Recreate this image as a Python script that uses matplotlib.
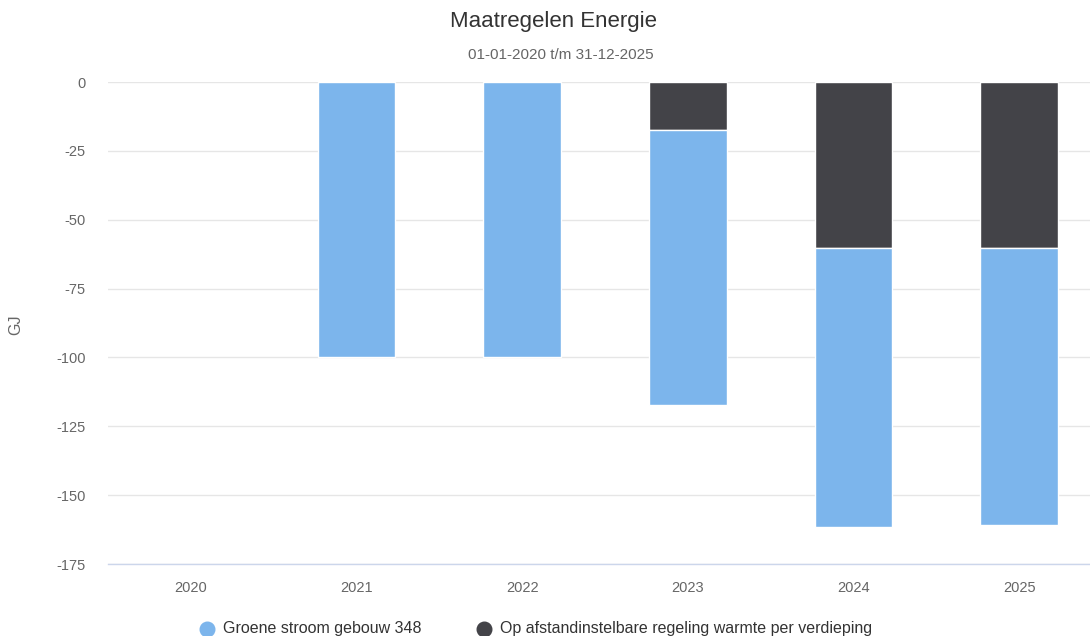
import numpy as np
from matplotlib import pyplot as plt
from matplotlib.lines import Line2D

# data
years = ["2020", "2021", "2022", "2023", "2024", "2025"]
groene_stroom = [np.nan, -100.0, -100.0, -100.1, -101.2, -100.4]
regeling_warmte = [np.nan, np.nan, np.nan, -17.3, -60.3, -60.3]
y_ticks = [0, -25, -50, -75, -100, -125, -150, -175]

blue = "#7cb5ec"
dark = "#434348"
plt.rcParams["font.family"] = ["Liberation Sans", "DejaVu Sans"]

fig = plt.figure(figsize=(10.9, 6.36), dpi=100)
W, H = 1090, 636
# plot area runs past the right edge, as in the reference
ax = fig.add_axes([108 / W, 1 - 564 / H, (1102 - 108) / W, (564 - 82) / H])

x = np.arange(len(years))
dark_vals = np.array(regeling_warmte)
stack_base = np.nan_to_num(dark_vals)

ax.bar(x, dark_vals, width=0.47, color=dark, edgecolor="white", linewidth=1, zorder=3)
ax.bar(x, groene_stroom, width=0.47, bottom=stack_base, color=blue,
       edgecolor="white", linewidth=1, zorder=3)

ax.set_xlim(-0.5, len(years) - 0.5)
ax.set_ylim(-175, 0)
ax.set_yticks(y_ticks)
ax.set_yticklabels([str(t) for t in y_ticks])
ax.set_xticks(x)
ax.set_xticklabels(years)
ax.tick_params(axis="both", length=0, labelsize=10.5, labelcolor="#666666")
ax.tick_params(axis="y", pad=16)
ax.tick_params(axis="x", pad=12)
ax.grid(axis="y", color="#e6e6e6", linewidth=1, zorder=0)
ax.set_axisbelow(True)
for side in ["top", "right", "left"]:
    ax.spines[side].set_visible(False)
ax.spines["bottom"].set_color("#ccd6eb")
ax.spines["bottom"].set_linewidth(1)

fig.text(16 / W, 1 - 325 / H, "GJ", rotation=90, ha="center", va="center",
         fontsize=11.5, color="#666666")
fig.text(554 / W, 1 - 22 / H, "Maatregelen Energie", ha="center", va="center",
         fontsize=16, color="#333333")
fig.text(561 / W, 1 - 55 / H, "01-01-2020 t/m 31-12-2025", ha="center", va="center",
         fontsize=11, color="#666666")

# legend drawn by hand so it sits where the reference has it
legend_y = 1 - 629 / H
for mx, tx, label, color in [(207, 223, "Groene stroom gebouw 348", blue),
                             (484, 500, "Op afstandinstelbare regeling warmte per verdieping", dark)]:
    fig.add_artist(Line2D([mx / W], [legend_y], marker="o", markersize=10.5,
                          color=color, linestyle="none", transform=fig.transFigure))
    fig.text(tx / W, legend_y, label, ha="left", va="center", fontsize=11.5, color="#333333")

fig.savefig("out.png", dpi=100)
